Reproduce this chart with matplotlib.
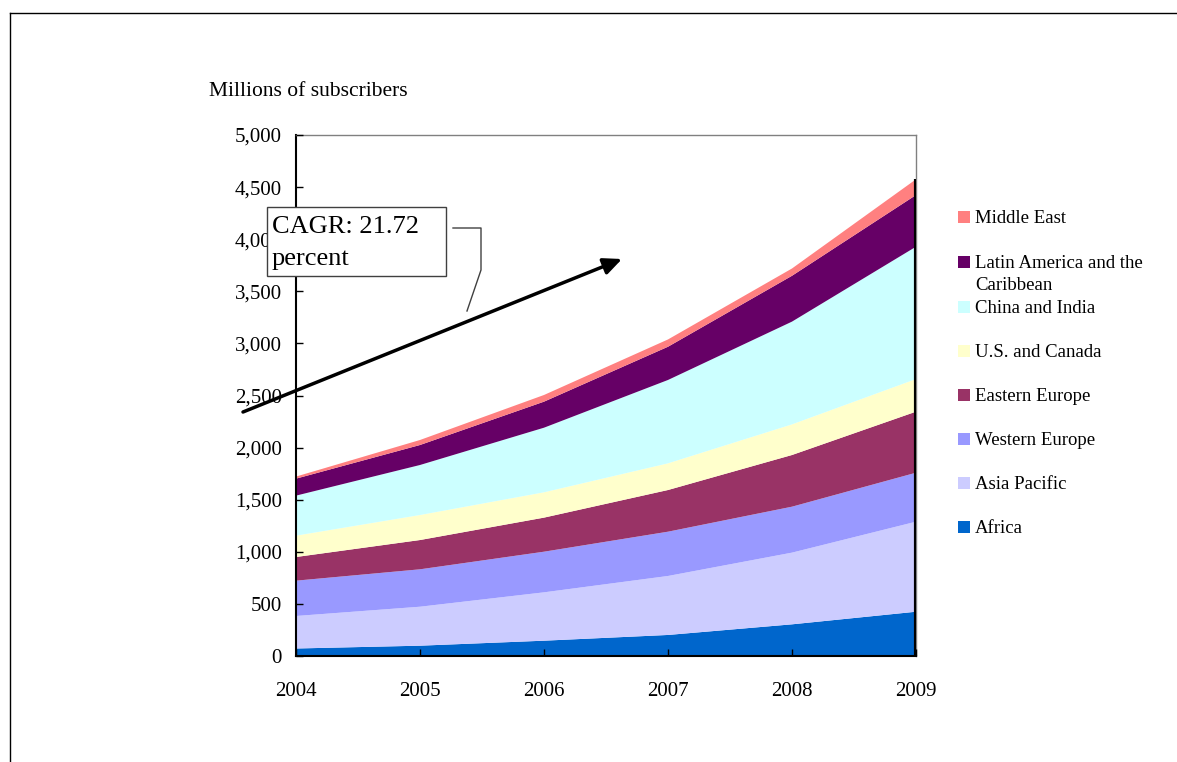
import matplotlib
matplotlib.use("Agg")
import matplotlib.pyplot as plt
from matplotlib.lines import Line2D
from matplotlib.patches import Rectangle
from matplotlib.ticker import FuncFormatter

plt.rcParams['font.family'] = ['Liberation Serif', 'DejaVu Serif']

years = [2004, 2005, 2006, 2007, 2008, 2009]

# millions of subscribers per region (stacked bottom to top)
africa = [72, 99, 147, 202, 304, 425]
asia_pacific = [312, 374, 464, 566, 688, 864]
western_europe = [339, 359, 390, 425, 441, 470]
eastern_europe = [227, 281, 327, 400, 496, 586]
us_canada = [205, 240, 243, 256, 294, 313]
china_india = [384, 480, 620, 800, 986, 1270]
latin_america = [163, 192, 250, 319, 440, 496]
middle_east = [20, 48, 64, 70, 70, 151]

labels = ['Africa', 'Asia Pacific', 'Western Europe', 'Eastern Europe',
          'U.S. and Canada', 'China and India',
          'Latin America and the\nCaribbean', 'Middle East']
colors = ['#0066CC', '#CCCCFF', '#9999FF', '#993366',
          '#FFFFCC', '#CCFFFF', '#660066', '#FF8080']
series = [africa, asia_pacific, western_europe, eastern_europe,
          us_canada, china_india, latin_america, middle_east]

fig = plt.figure(figsize=(11.77, 7.62), dpi=100)
W, H = 1177, 762
ax = fig.add_axes([296 / W, 1 - 656 / H, 620 / W, 521 / H])

ax.stackplot(years, *series, colors=colors, linewidth=0)

total = [sum(v) for v in zip(*series)]
ax.vlines(years[-1], 0, total[-1], color='black', lw=3, zorder=5)

ax.set_xlim(2004, 2009)
ax.set_ylim(0, 5000)
ax.set_xticks(years)
ax.set_yticks(range(0, 5001, 500))
ax.yaxis.set_major_formatter(FuncFormatter(lambda v, p: f'{int(v):,}'))
ax.tick_params(axis='both', direction='in', length=5, width=1, labelsize=15, color='black')
ax.tick_params(axis='y', pad=10)
ax.tick_params(axis='x', pad=19)
for s in ['top', 'right']:
    ax.spines[s].set_color('#808080')
    ax.spines[s].set_linewidth(1)
for s in ['left', 'bottom']:
    ax.spines[s].set_color('black')
    ax.spines[s].set_linewidth(1.5)
ax.set_axisbelow(False)

fig.text(209 / W, 1 - 91 / H, 'Millions of subscribers', fontsize=15.5, va='center', ha='left')

# legend drawn by hand to match the spacing
leg_y = [527, 483, 439, 395, 351, 307, 262, 217]
for lab, col, y in zip(labels, colors, leg_y):
    fig.patches.append(Rectangle((958 / W, 1 - (y + 6) / H), 12 / W, 12 / H,
                                 transform=fig.transFigure, facecolor=col, edgecolor='none'))
    fig.text(975 / W, 1 - (y - 7) / H, lab, fontsize=13.5, va='top', ha='left', linespacing=1.35)

# growth arrow
ax.annotate('', xy=(622 / W, 1 - 259 / H), xytext=(243 / W, 1 - 412 / H),
            xycoords='figure fraction', textcoords='figure fraction',
            arrowprops=dict(arrowstyle='-|>,head_length=1.1,head_width=0.5', color='black',
                            lw=2.5, shrinkA=0, shrinkB=0), annotation_clip=False, zorder=10)

# callout line
fig.add_artist(Line2D([453 / W, 481 / W, 481 / W, 467 / W],
                      [1 - 228 / H, 1 - 228 / H, 1 - 270 / H, 1 - 311 / H],
                      color='#404040', lw=1))

# CAGR box
fig.patches.append(Rectangle((267 / W, 1 - 276 / H), 179 / W, 69 / H, transform=fig.transFigure,
                             facecolor='white', edgecolor='#404040', lw=1, zorder=20))
fig.text(272 / W, 1 - 227 / H, 'CAGR: 21.72', fontsize=19, va='center', ha='left', zorder=21)
fig.text(272 / W, 1 - 259 / H, 'percent', fontsize=19, va='center', ha='left', zorder=21)

# page frame
fig.add_artist(Line2D([10 / W, 1], [1 - 13 / H, 1 - 13 / H], color='black', lw=1))
fig.add_artist(Line2D([10 / W, 10 / W], [0, 1 - 13 / H], color='black', lw=1))

fig.savefig('out.png', dpi=100)
